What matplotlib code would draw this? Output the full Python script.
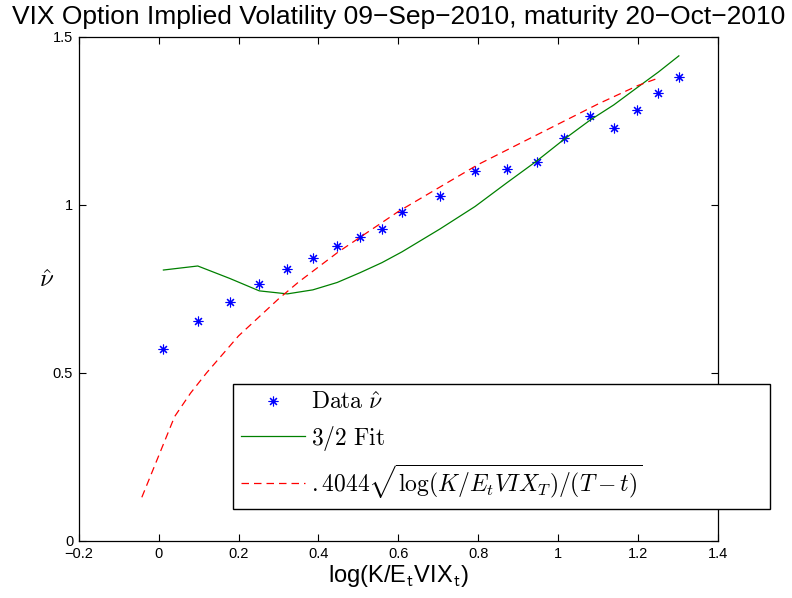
import numpy as np
import matplotlib
matplotlib.use("Agg")
import matplotlib.pyplot as plt

plt.rcParams['font.family'] = ['Liberation Sans', 'DejaVu Sans']
plt.rcParams['mathtext.fontset'] = 'cm'

#~~~~~~~~~~~~~~~~~~~~~~~~~~~~ data ~~~~~~~~~~~~~~~~~~~~~~~~~~~~
logk = [0.012, 0.098, 0.178, 0.252, 0.322, 0.386, 0.447, 0.504, 0.559, 0.609,
        0.704, 0.792, 0.871, 0.946, 1.015, 1.080, 1.139, 1.197, 1.251, 1.302]
nu_data = [0.572, 0.655, 0.711, 0.763, 0.810, 0.841, 0.877, 0.904, 0.928, 0.978,
           1.026, 1.100, 1.107, 1.127, 1.198, 1.264, 1.227, 1.281, 1.332, 1.379]
nu_fit32 = [0.806, 0.818, 0.781, 0.744, 0.735, 0.747, 0.769, 0.798, 0.828, 0.860,
            0.928, 0.995, 1.065, 1.130, 1.195, 1.252, 1.297, 1.348, 1.395, 1.443]

x_sqrt = [-0.042, 0.04, 0.08, 0.12, 0.16, 0.20, 0.25, 0.30, 0.35, 0.40,
          0.45, 0.50, 0.60, 0.70, 0.80, 0.90, 1.00, 1.10, 1.20, 1.244]
nu_sqrt = [0.13, 0.37, 0.44, 0.50, 0.555, 0.61, 0.665, 0.72, 0.77, 0.815,
           0.86, 0.90, 0.98, 1.05, 1.12, 1.18, 1.24, 1.30, 1.355, 1.374]

xticks = [-0.2, 0, 0.2, 0.4, 0.6, 0.8, 1, 1.2, 1.4]
yticks = [0, 0.5, 1, 1.5]

#~~~~~~~~~~~~~~~~~~~~~~~~~~~~ plot ~~~~~~~~~~~~~~~~~~~~~~~~~~~~
fig = plt.figure(figsize=(7.92, 5.98), dpi=100)
ax = fig.add_axes([78.7/792, 1 - 541/598, (718 - 78.7)/792, (541 - 36.7)/598])

h1, = ax.plot(logk, nu_data, linestyle='none', marker=(8, 2, 0), markersize=7,
              markeredgewidth=0.8, color='blue', label=r'$\mathrm{Data}\ \hat{\nu}$')
h2, = ax.plot(logk, nu_fit32, color=(0, 0.5, 0), lw=0.9, label=r'$3/2\ \mathrm{Fit}$')
h3, = ax.plot(x_sqrt, nu_sqrt, color='red', lw=0.9, dashes=(6, 4),
              label=r'$.4044\sqrt{\log(K/E_tVIX_T)/(T-t)}$')

ax.set_xlim(-0.2, 1.4)
ax.set_ylim(0, 1.5)
ax.set_xticks(xticks)
ax.set_xticklabels(['\u22120.2', '0', '0.2', '0.4', '0.6', '0.8', '1', '1.2', '1.4'])
ax.set_yticks(yticks)
ax.set_yticklabels(['0', '0.5', '1', '1.5'])
ax.tick_params(direction='in', top=True, right=True, length=5, width=0.8,
               labelsize=10.5, pad=4)
for sp in ax.spines.values():
    sp.set_linewidth(0.9)

ax.set_title('VIX Option Implied Volatility 09\u2212Sep\u22122010, maturity 20\u2212Oct\u22122010',
             fontsize=19, pad=9)
ax.set_xlabel(r'log(K/E$_{\mathsf{t}}$VIX$_{\mathsf{t}}$)', fontsize=17, labelpad=2)
ax.set_ylabel(r'$\hat{\nu}$', fontsize=18, rotation=0, va='center', ha='center')
ax.yaxis.set_label_coords(-0.05, 0.518)

leg = ax.legend(handles=[h1, h2, h3], loc='upper left',
                bbox_to_anchor=(233/792, 1 - 507/598, (770 - 233)/792, (507 - 384)/598),
                bbox_transform=fig.transFigure, mode='expand',
                fontsize=17, handlelength=2.7, handletextpad=0.25,
                labelspacing=0.4, borderpad=0.35, fancybox=False,
                framealpha=1, edgecolor='black', borderaxespad=0)
leg.get_frame().set_linewidth(1.0)

plt.savefig('out.png', dpi=100)
